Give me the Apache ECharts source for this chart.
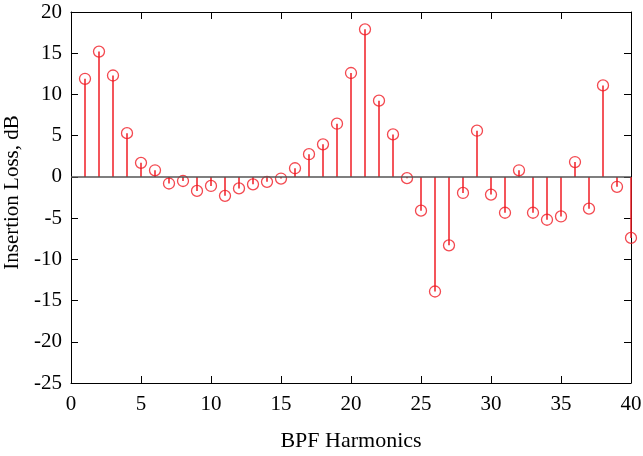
<!DOCTYPE html>
<html>
<head>
<meta charset="utf-8">
<script src="https://cdn.jsdelivr.net/npm/echarts@6/dist/echarts.min.js"></script>
<style>
  html, body { margin: 0; padding: 0; background: #fff; }
  #chart { width: 643px; height: 456px; }
</style>
</head>
<body>
<div id="chart"></div>
<script>
const harmonics = [1, 2, 3, 4, 5, 6, 7, 8, 9, 10, 11, 12, 13, 14, 15, 16, 17, 18, 19, 20,
    21, 22, 23, 24, 25, 26, 27, 28, 29, 30, 31, 32, 33, 34, 35, 36, 37, 38, 39, 40]
const insertionLoss = [11.9, 15.2, 12.3, 5.3, 1.7, 0.8, -0.8, -0.5, -1.7, -1.1,
    -2.3, -1.4, -0.9, -0.6, -0.2, 1.05, 2.75, 3.95, 6.45, 12.6,
    17.9, 9.25, 5.15, -0.15, -4.1, -13.9, -8.3, -1.95, 5.6, -2.15,
    -4.35, 0.8, -4.35, -5.2, -4.8, 1.8, -3.85, 11.1, -1.2, -7.4]

const points = harmonics.map((h, i) => [h, insertionLoss[i]])

const RED = '#f01c24'
const FONT = 'Liberation Serif'

const chart = echarts.init(document.getElementById('chart'))

const axisCommon = {
    type: 'value',
    axisLine: { show: true, onZero: false, lineStyle: { color: '#000', width: 1 } },
    axisTick: { show: true, inside: true, length: 7, lineStyle: { color: '#000' } },
    splitLine: { show: false },
    axisLabel: { show: false }
}

chart.setOption({
    animation: false,
    grid: { left: 71, right: 12, top: 12, bottom: 73, containLabel: false, outerBoundsMode: 'none' },
    xAxis: [
        {
            ...axisCommon,
            min: 0, max: 40, interval: 5,
            position: 'bottom',
            axisLabel: { show: true, color: '#000', fontFamily: FONT, fontSize: 21, margin: 11 },
            name: 'BPF Harmonics',
            nameLocation: 'middle',
            nameGap: 47,
            nameTextStyle: { color: '#000', fontFamily: FONT, fontSize: 22 }
        },
        { ...axisCommon, min: 0, max: 40, interval: 5, position: 'top' }
    ],
    yAxis: [
        {
            ...axisCommon,
            min: -25, max: 20, interval: 5,
            position: 'left',
            axisLabel: { show: true, color: '#000', fontFamily: FONT, fontSize: 21, margin: 9 },
            name: 'Insertion Loss, dB',
            nameLocation: 'middle',
            nameGap: 45,
            nameTextStyle: { color: '#000', fontFamily: FONT, fontSize: 21, padding: [0, 0, 0, 10] }
        },
        { ...axisCommon, min: -25, max: 20, interval: 5, position: 'right' }
    ],
    series: [
        {
            // stems
            type: 'custom',
            data: points,
            silent: true,
            z: 2,
            renderItem: (params, api) => {
                const top = api.coord([api.value(0), api.value(1)])
                const base = api.coord([api.value(0), 0])
                return {
                    type: 'line',
                    shape: { x1: base[0], y1: base[1], x2: top[0], y2: top[1] },
                    style: { stroke: RED, lineWidth: 1.5 }
                }
            }
        },
        {
            type: 'scatter',
            data: points,
            symbol: 'circle',
            symbolSize: 11,
            z: 3,
            itemStyle: { color: 'rgba(0,0,0,0)', borderColor: RED, borderWidth: 1.3 },
            markLine: {
                silent: true,
                symbol: 'none',
                label: { show: false },
                lineStyle: { color: '#555', type: 'solid', width: 1.5 },
                data: [{ yAxis: 0 }]
            }
        }
    ]
})
</script>
</body>
</html>
